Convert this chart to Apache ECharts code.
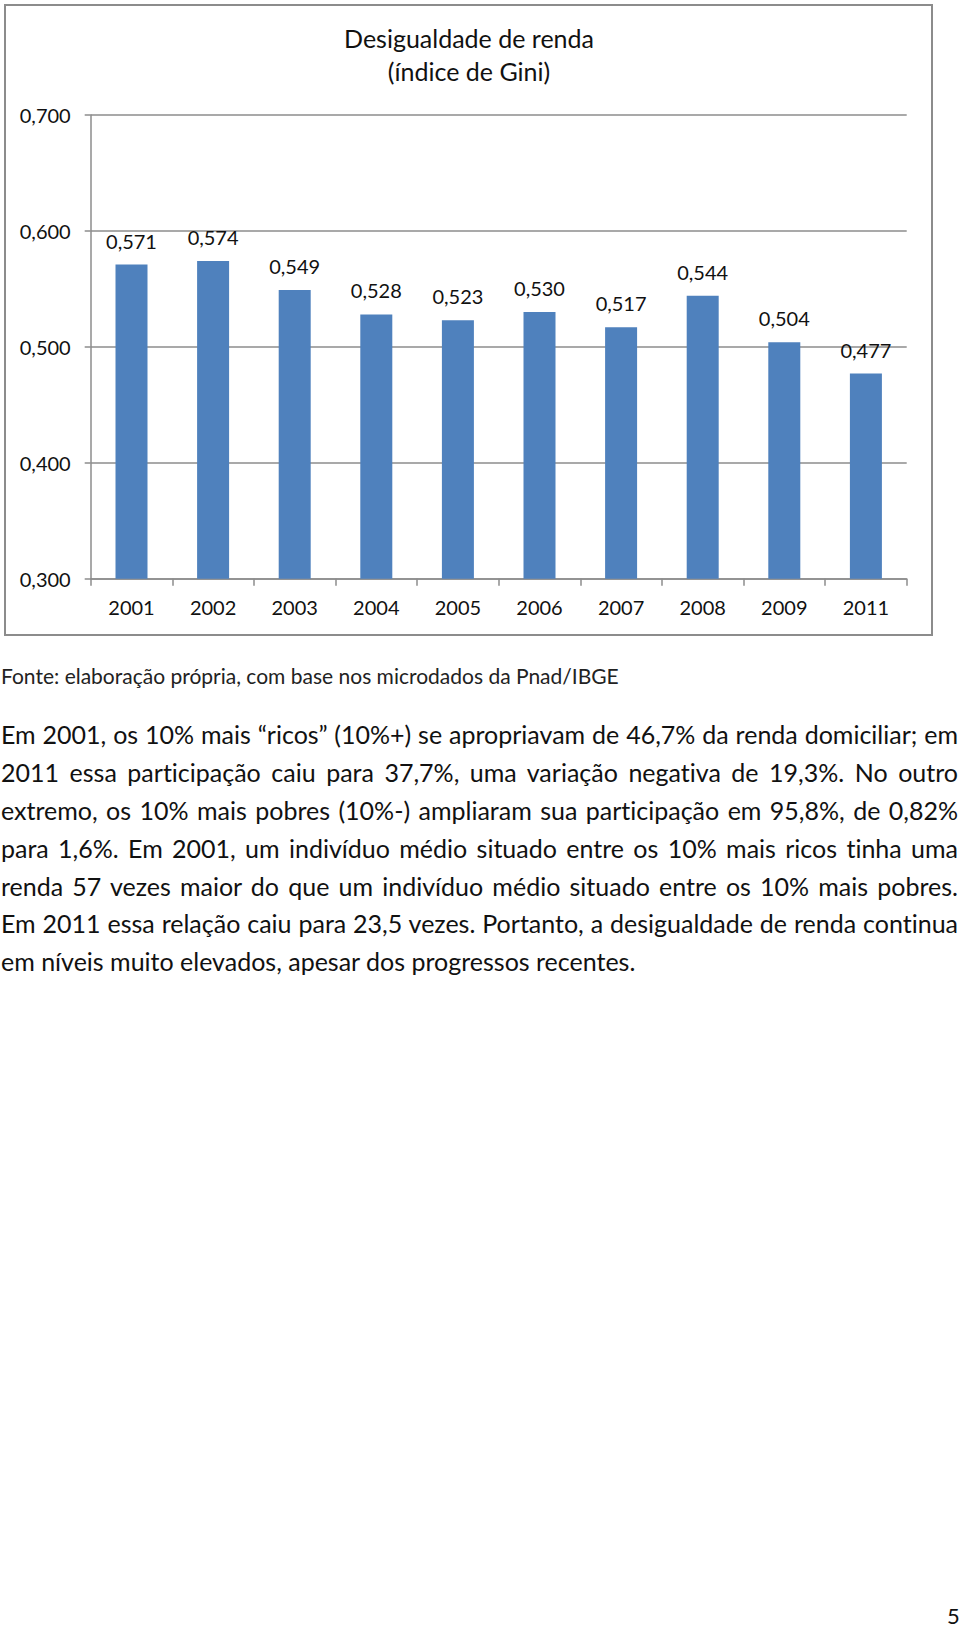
<!DOCTYPE html>
<html>
<head>
<meta charset="utf-8">
<script src="https://cdn.jsdelivr.net/npm/echarts@6/dist/echarts.min.js"></script>
<style>
  html, body { margin: 0; padding: 0; background: #fff; }
  body { width: 960px; height: 1626px; position: relative; overflow: hidden; font-family: Lato, "Open Sans", sans-serif; color: #111; font-variant-ligatures: none; font-feature-settings: "liga" 0, "clig" 0; }
  #chart { position: absolute; left: 0; top: 0; width: 960px; height: 640px; }
  #fonte { position: absolute; left: 1px; top: 662px; font-size: 21px; line-height: 28px; white-space: nowrap; color: #222; }
  #para { position: absolute; left: 1px; top: 716px; width: 957px; font-size: 25px; color: #111; }
  #para div { white-space: nowrap; height: 37.9px; line-height: 37.9px; text-align: justify; text-align-last: justify; }
  #para div.last { text-align-last: left; }
  #page { position: absolute; left: 947px; top: 1602px; font-size: 22px; line-height: 28px; color: #111; }
</style>
</head>
<body>
<div id="chart"></div>
<div id="fonte"></div>
<div id="para"></div>
<div id="page">5</div>
<script>
const categories = ['2001', '2002', '2003', '2004', '2005', '2006', '2007', '2008', '2009', '2011'];
const giniValues = [0.571, 0.574, 0.549, 0.528, 0.523, 0.530, 0.517, 0.544, 0.504, 0.477];
const yTicks = { min: 0.3, max: 0.7, interval: 0.1 };
const titleLines = ['Desigualdade de renda', '(índice de Gini)'];
const sourceText = 'Fonte: elaboração própria, com base nos microdados da Pnad/IBGE';
const paragraphLines = [
  'Em 2001, os 10% mais “ricos” (10%+) se apropriavam de 46,7% da renda domiciliar; em',
  '2011 essa participação caiu para 37,7%, uma variação negativa de 19,3%. No outro',
  'extremo, os 10% mais pobres (10%-) ampliaram sua participação em 95,8%, de 0,82%',
  'para 1,6%. Em 2001, um indivíduo médio situado entre os 10% mais ricos tinha uma',
  'renda 57 vezes maior do que um indivíduo médio situado entre os 10% mais pobres.',
  'Em 2011 essa relação caiu para 23,5 vezes. Portanto, a desigualdade de renda continua',
  'em níveis muito elevados, apesar dos progressos recentes.'
];

document.getElementById('fonte').textContent = sourceText;
const para = document.getElementById('para');
paragraphLines.forEach((t, i) => {
  const d = document.createElement('div');
  d.textContent = t;
  if (i === paragraphLines.length - 1) d.className = 'last';
  para.appendChild(d);
});

const fmt = v => v.toFixed(3).replace('.', ',');
const grey = '#8c8c8c';
const font = 'Lato, "Open Sans", sans-serif';

const chart = echarts.init(document.getElementById('chart'), null, { renderer: 'svg' });
chart.setOption({
  animation: false,
  textStyle: { fontFamily: font },
  title: {
    text: titleLines.join('\n'),
    left: 464,
    top: 16,
    textAlign: 'center',
    textStyle: { fontFamily: font, fontSize: 25, fontWeight: 'normal', color: '#111', lineHeight: 33 }
  },
  graphic: [{
    type: 'rect',
    shape: { x: 5, y: 5, width: 927, height: 630 },
    style: { fill: 'none', stroke: grey, lineWidth: 2 },
    silent: true
  }],
  grid: { left: 90.7, right: 53.3, top: 115, bottom: 61.3, containLabel: false, outerBoundsMode: 'none' },
  xAxis: {
    type: 'category',
    data: categories,
    boundaryGap: true,
    axisLine: { show: true, lineStyle: { color: grey, width: 1.5 } },
    axisTick: { show: true, length: 7, alignWithLabel: false, lineStyle: { color: grey, width: 1.5 } },
    axisLabel: { color: '#111', fontSize: 20, margin: 18, fontFamily: font, interval: 0 }
  },
  yAxis: {
    type: 'value',
    min: yTicks.min,
    max: yTicks.max,
    interval: yTicks.interval,
    axisLine: { show: true, lineStyle: { color: grey, width: 1.5 } },
    axisTick: { show: true, length: 6, lineStyle: { color: grey, width: 1.5 } },
    splitLine: { show: true, lineStyle: { color: grey, width: 1.5 } },
    axisLabel: { color: '#111', fontSize: 20, margin: 20, fontFamily: font, formatter: fmt }
  },
  series: [{
    type: 'bar',
    data: giniValues,
    barWidth: 32,
    itemStyle: { color: '#4f81bd' },
    label: {
      show: true,
      position: 'top',
      distance: 14,
      color: '#111',
      fontSize: 20,
      fontFamily: font,
      formatter: p => fmt(p.value)
    }
  }]
});
</script>
</body>
</html>
